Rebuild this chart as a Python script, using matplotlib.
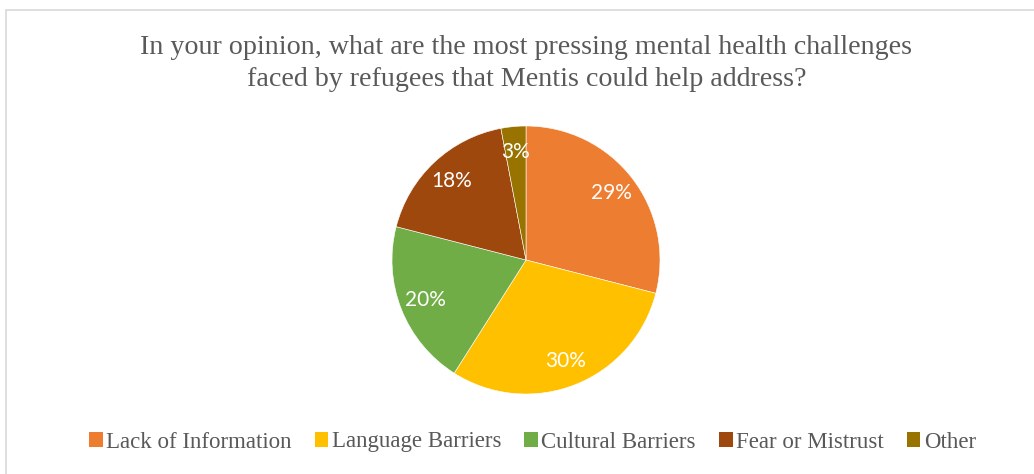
import matplotlib.pyplot as plt
from matplotlib.patches import Rectangle, Patch

labels = ['Lack of Information', 'Language Barriers', 'Cultural Barriers',
          'Fear or Mistrust', 'Other']
shares = [29, 30, 20, 18, 3]
colors = ['#ED7D31', '#FFC000', '#70AD47', '#9E480E', '#997300']

W, H = 1034, 474
fig = plt.figure(figsize=(W / 100, H / 100), dpi=100)

# light frame on the top and left edges
fig.patches.append(Rectangle((6 / W, -0.1), 1.2, 1 - 10 / H + 0.1,
                             transform=fig.transFigure, fill=False,
                             edgecolor='#D9D9D9', linewidth=1.2))

title_x = 526.5 / W
fig.text(title_x, 1 - 47 / H,
         'In your opinion, what are the most pressing mental health challenges',
         ha='center', va='center', fontsize=20.2, color='#595959',
         family='Liberation Serif')
fig.text(title_x, 1 - 80 / H,
         'faced by refugees that Mentis could help address?',
         ha='center', va='center', fontsize=20.2, color='#595959',
         family='Liberation Serif')

cx, cy, r = 526, 260, 134
ax = fig.add_axes([(cx - r) / W, (H - cy - r) / H, 2 * r / W, 2 * r / H])
wedges, _, autotexts = ax.pie(shares, colors=colors, startangle=90,
                              counterclock=False, radius=1,
                              autopct='%d%%', pctdistance=0.81,
                              wedgeprops=dict(edgecolor='white', linewidth=0.4))
for t in autotexts:
    t.set_color('white')
    t.set_fontsize(15)
    t.set_family('Lato')
ax.set_xlim(-1, 1)
ax.set_ylim(-1, 1)
ax.set_aspect('equal')
ax.axis('off')

handles = [Patch(facecolor=c, edgecolor='none') for c in colors]
fig.legend(handles, labels, loc='center', bbox_to_anchor=(532.5 / W, 1 - 442 / H),
           ncol=5, frameon=False, handlelength=0.6, handleheight=0.6,
           handletextpad=0.15, columnspacing=1.0,
           prop=dict(family='Liberation Serif', size=16.5), labelcolor='#595959')

fig.savefig('out.png', dpi=100)
